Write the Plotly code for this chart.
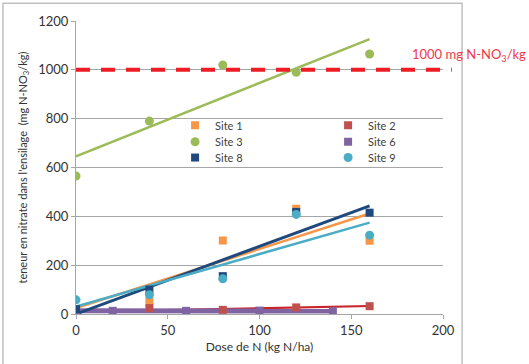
import numpy as np
import plotly.graph_objects as go

# ---- data ----
dose = [0, 40, 80, 120, 160]
dose_site6 = [0, 20, 60, 100, 140]
site1 = [5, 52, 301, 431, 300]
site2 = [3, 24, 17, 27, 32]
site3 = [565, 790, 1020, 990, 1065]
site6 = [12, 13, 13, 14, 11]
site8 = [20, 100, 155, 418, 415]
site9 = [58, 79, 144, 408, 323]
threshold = 1000
threshold_label = "1000 mg N-NO<sub>3</sub>/kg"
x_ticks = [0, 50, 100, 150, 200]
y_ticks = [0, 200, 400, 600, 800, 1000, 1200]

FONT = "Lato"
series = [
    # name, x, y, colour, line colour, symbol, legend row, line width
    ("Site 1", dose, site1, "#F79646", "#F79646", "square", "legend", 2.5),
    ("Site 2", dose, site2, "#C0504D", "#C8242C", "square", "legend", 2.2),
    ("Site 3", dose, site3, "#9BBB59", "#9BBB59", "circle", "legend2", 2.5),
    ("Site 6", dose_site6, site6, "#8064A2", "#8064A2", "square", "legend2", 5),
    ("Site 8", dose, site8, "#1F497D", "#1F497D", "square", "legend3", 3),
    ("Site 9", dose, site9, "#4BACC6", "#4BACC6", "circle", "legend3", 2.5),
]

fig = go.Figure()

# trend lines (least squares, computed from the data)
for name, xs, ys, col, lcol, sym, leg, lw in series:
    k, b = np.polyfit(xs, ys, 1)
    xl = np.array([min(xs), max(xs)])
    fig.add_trace(go.Scatter(x=xl, y=k * xl + b, mode="lines",
                             line=dict(color=lcol, width=lw),
                             showlegend=False, hoverinfo="skip"))

# markers
for name, xs, ys, col, lcol, sym, leg, lw in series:
    fig.add_trace(go.Scatter(x=xs, y=ys, mode="markers", name=name,
                             marker=dict(color=col, symbol=sym,
                                         size=8 if sym == "square" else 9),
                             legend=leg))

# threshold line
fig.add_shape(type="line", xref="paper", yref="y", x0=0, x1=1.024,
              y0=threshold, y1=threshold,
              line=dict(color="#EE1C25", width=4, dash="14px,11px"))
fig.add_annotation(text=threshold_label, xref="paper", yref="y",
                   x=0.91, y=threshold, xanchor="left", yanchor="middle",
                   yshift=15, showarrow=False,
                   font=dict(family=FONT, size=13, color="#F0384A"))

# chart frame
fig.add_shape(type="rect", xref="paper", yref="paper",
              x0=-0.199, x1=1.052, y0=-0.3, y1=1.061,
              line=dict(color="#BFBFBF", width=1.5), layer="below")

legend_common = dict(orientation="h", x=0.27, xanchor="left", yanchor="middle",
                     bgcolor="rgba(0,0,0,0)", font=dict(size=11, color="#404040"),
                     entrywidth=108, itemwidth=30)

fig.update_layout(
    width=529, height=364,
    margin=dict(l=76, r=86, t=21, b=48),
    paper_bgcolor="white", plot_bgcolor="white",
    font=dict(family=FONT, size=12, color="#404040"),
    legend=dict(y=0.644, **legend_common),
    legend2=dict(y=0.588, **legend_common),
    legend3=dict(y=0.534, **legend_common),
    xaxis=dict(range=[0, 200], tickvals=x_ticks, showgrid=False,
               showline=True, linecolor="#A6A6A6", linewidth=1,
               ticks="outside", ticklen=4, tickcolor="#A6A6A6",
               tickfont=dict(size=13, color="#333333"), zeroline=False,
               title=dict(text="Dose de N (kg N/ha)",
                          font=dict(size=12, color="#333333"), standoff=6)),
    yaxis=dict(range=[0, 1200], tickvals=y_ticks, showgrid=True,
               gridcolor="#A6A6A6", gridwidth=1,
               showline=True, linecolor="#A6A6A6", linewidth=1,
               ticks="outside", ticklen=4, tickcolor="#A6A6A6",
               tickfont=dict(size=13, color="#333333"), zeroline=False,
               title=dict(text="teneur en nitrate dans l'ensilage  (mg N-NO<sub>3</sub>/kg)",
                          font=dict(size=11, color="#333333"), standoff=8)),
)

fig.write_html("out.html", config={"displayModeBar": False},
               post_script="document.body.style.margin='0';")
